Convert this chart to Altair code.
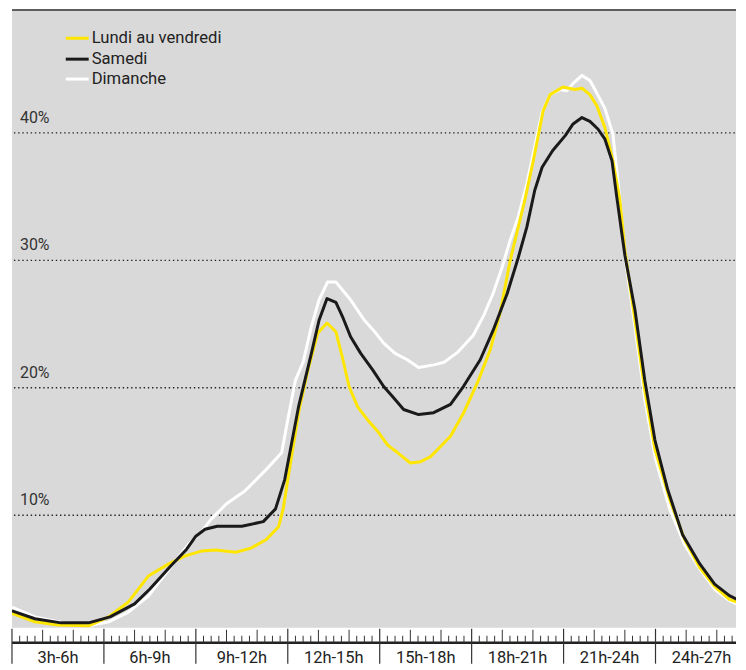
import altair as alt
import pandas as pd

# ---- data (hour of day, share in %) ----
hours_lv = [3.0, 3.75, 4.5, 5.5, 6.15, 6.8, 7.45, 8.1, 8.63, 9.18, 9.65, 10.3, 10.8, 11.3, 11.7, 11.85, 12.0,
            12.37, 12.66, 12.98, 13.28, 13.57, 13.8, 14.0, 14.28, 14.6, 14.93, 15.26, 15.59, 16.0, 16.33, 16.66,
            16.89, 17.31, 17.73, 18.19, 18.61, 18.93, 19.26, 19.49, 19.75, 20.01, 20.33, 20.56, 20.98, 21.37, 21.6,
            21.86, 22.09, 22.35, 22.61, 22.84, 23.0, 23.33, 23.65, 23.98, 24.46, 24.95, 25.44, 25.93, 26.41, 27.0]
vals_lv = [2.3, 1.64, 1.4, 1.33, 2.03, 3.2, 5.23, 6.17, 6.8, 7.19, 7.27, 7.1, 7.42, 8.1, 9.1, 10.5, 12.8,
           18.28, 21.4, 24.3, 25.08, 24.4, 22.2, 20.1, 18.5, 17.5, 16.6, 15.5, 14.9, 14.1, 14.2, 14.6,
           15.16, 16.2, 18.0, 20.4, 23.0, 25.9, 30.0, 32.3, 34.9, 37.8, 41.7, 43.0, 43.6, 43.4, 43.5,
           43.0, 42.1, 40.4, 37.8, 34.7, 30.8, 25.3, 19.8, 15.2, 11.25, 8.1, 5.9, 4.4, 3.4, 2.9]

hours_sa = [3.0, 3.75, 4.6, 5.5, 6.2, 7.0, 7.5, 8.15, 8.7, 9.0, 9.3, 9.7, 10.5, 11.2, 11.6, 11.9, 12.35, 12.77,
            13.02, 13.28, 13.57, 13.8, 14.05, 14.38, 14.77, 15.13, 15.46, 15.78, 16.27, 16.76, 17.31, 17.73,
            18.28, 18.7, 19.16, 19.52, 19.8, 20.06, 20.3, 20.64, 21.06, 21.31, 21.6, 21.86, 22.12, 22.35, 22.58,
            22.74, 23.0, 23.33, 23.65, 23.98, 24.4, 24.88, 25.44, 25.93, 26.41, 27.0]
vals_sa = [2.5, 1.88, 1.56, 1.56, 2.03, 3.05, 4.22, 5.94, 7.34, 8.36, 8.9, 9.14, 9.14, 9.5, 10.5, 12.8, 18.5, 22.7,
           25.3, 27.0, 26.7, 25.5, 24.0, 22.7, 21.4, 20.1, 19.2, 18.3, 17.9, 18.05, 18.7, 20.1,
           22.2, 24.5, 27.4, 30.2, 32.6, 35.5, 37.3, 38.6, 39.8, 40.7, 41.2, 40.9, 40.3, 39.5, 37.8,
           34.9, 30.4, 26.1, 20.6, 15.9, 12.0, 8.5, 6.2, 4.6, 3.7, 3.0]

hours_di = [3.0, 3.75, 4.85, 5.5, 6.15, 6.8, 7.45, 8.2, 8.75, 9.2, 9.5, 10.0, 10.6, 11.3, 11.8, 12.0, 12.25, 12.5,
            12.77, 13.02, 13.3, 13.57, 14.05, 14.5, 14.8, 15.13, 15.5, 15.9, 16.27, 16.76, 17.1, 17.55, 18.05,
            18.4, 18.7, 19.0, 19.26, 19.52, 19.8, 20.1, 20.3, 20.56, 20.9, 21.1, 21.32, 21.6, 21.86, 22.09, 22.35,
            22.61, 22.84, 23.0, 23.3, 23.65, 24.0, 24.46, 24.95, 25.44, 25.93, 26.41, 27.0]
vals_di = [2.8, 2.03, 1.48, 1.33, 1.64, 2.4, 3.67, 6.0, 7.7, 8.75, 9.7, 10.9, 11.9, 13.6, 14.9, 17.5, 20.6, 22.0,
           24.8, 26.9, 28.3, 28.3, 26.9, 25.3, 24.5, 23.5, 22.7, 22.2, 21.6, 21.8, 22.0, 22.8, 24.1,
           25.7, 27.4, 29.5, 31.6, 33.4, 36.0, 39.4, 41.6, 43.0, 43.4, 43.3, 43.9, 44.5, 44.1, 43.1, 41.9,
           39.9, 34.7, 30.4, 25.3, 19.1, 14.4, 10.5, 7.7, 5.8, 4.2, 3.3, 2.7]

series_names = ["Lundi au vendredi", "Samedi", "Dimanche"]
series_colors = ["#ffe600", "#1a1a1a", "#ffffff"]

grid_values = [10, 20, 30, 40]
grid_labels = ["10%", "20%", "30%", "40%"]

period_labels = ["3h-6h", "6h-9h", "9h-12h", "12h-15h", "15h-18h", "18h-21h", "21h-24h", "24h-27h"]
period_centers = [4.5, 7.5, 10.5, 13.5, 16.5, 19.5, 22.5, 25.5]

# ---- layout ----
PX_PER_HOUR = 30.77
W, H = 727, 636
X_MAX = 3 + W / PX_PER_HOUR
FONT = "Roboto"
xs = alt.Scale(domain=[3, X_MAX], nice=False, zero=False)
ys = alt.Scale(domain=[0, H / 12.8], nice=False, zero=True)

quarter_ticks = [3 + i * 0.25 for i in range(97) if 3 + i * 0.25 <= X_MAX]

one = pd.DataFrame({"a": [0]})

bg = alt.Chart(one).mark_rect(color="#d9d9d9").encode(
    x=alt.value(0), x2=alt.value(W), y=alt.value(0), y2=alt.value(621))

top_line = alt.Chart(one).mark_rule(color="#333333", strokeWidth=1.5).encode(
    x=alt.value(0), x2=alt.value(W), y=alt.value(0.75))

grid_df = pd.DataFrame({"v": grid_values, "label": grid_labels})
grid = alt.Chart(grid_df).mark_rule(color="#222222", strokeWidth=1.4, strokeDash=[1.4, 2.8]).encode(
    y=alt.Y("v:Q", scale=ys, axis=None), x=alt.value(2), x2=alt.value(W))
grid_text = alt.Chart(grid_df).mark_text(align="left", baseline="alphabetic", dy=-10, fontSize=16,
                                         font=FONT, color="#333333").encode(
    y=alt.Y("v:Q", scale=ys, axis=None), x=alt.value(8), text="label:N")


def series_layer(h, v, color):
    df = pd.DataFrame({"h": h, "v": v})
    return alt.Chart(df).mark_line(color=color, strokeWidth=3, strokeJoin="round", clip=True).encode(
        x=alt.X("h:Q", scale=xs, axis=None), y=alt.Y("v:Q", scale=ys, axis=None))


line_di = series_layer(hours_di, vals_di, series_colors[2])
line_lv = series_layer(hours_lv, vals_lv, series_colors[0])
line_sa = series_layer(hours_sa, vals_sa, series_colors[1])

# axis
baseline = alt.Chart(one).mark_rule(color="#222222", strokeWidth=2.4).encode(
    x=alt.value(0), x2=alt.value(W), y=alt.value(H))

tick_df = pd.DataFrame({"h": quarter_ticks})
tick_df["kind"] = ["major" if abs((t - 3) % 3) < 1e-9 else ("hour" if abs(t % 1) < 1e-9 else "minor")
                   for t in quarter_ticks]

minor = alt.Chart(tick_df[tick_df.kind == "minor"]).mark_rule(color="#333333", strokeWidth=1).encode(
    x=alt.X("h:Q", scale=xs, axis=None), y=alt.value(H - 7), y2=alt.value(H))
hourt = alt.Chart(tick_df[tick_df.kind == "hour"]).mark_rule(color="#333333", strokeWidth=1).encode(
    x=alt.X("h:Q", scale=xs, axis=None), y=alt.value(H - 13), y2=alt.value(H))
major = alt.Chart(tick_df[tick_df.kind == "major"]).mark_rule(color="#333333", strokeWidth=1.2).encode(
    x=alt.X("h:Q", scale=xs, axis=None), y=alt.value(H - 14), y2=alt.value(H + 21))

period_df = pd.DataFrame({"c": period_centers, "label": period_labels})
period_text = alt.Chart(period_df).mark_text(align="center", baseline="alphabetic", fontSize=16.5,
                                             font=FONT, color="#222222").encode(
    x=alt.X("c:Q", scale=xs, axis=None), y=alt.value(H + 20), text="label:N")

# legend
legend_layers = []
legend_y = [29, 50, 70]
for name, color, ly in zip(series_names, series_colors, legend_y):
    legend_layers.append(alt.Chart(one).mark_rule(color=color, strokeWidth=3).encode(
        x=alt.value(54), x2=alt.value(77), y=alt.value(ly)))
    legend_layers.append(alt.Chart(one).mark_text(align="left", baseline="middle", fontSize=16.7, font=FONT,
                                                  color="#222222", text=name).encode(
        x=alt.value(80), y=alt.value(ly)))

chart = alt.layer(
    bg, top_line, grid, grid_text, line_di, line_lv, line_sa,
    baseline, minor, hourt, major, period_text, *legend_layers
).properties(
    width=W, height=H, padding={"left": 2, "top": 0, "right": 0, "bottom": 2}, background="#ffffff"
).configure_view(stroke=None)

chart.save("out.html", embed_options={"renderer": "svg", "actions": False})
